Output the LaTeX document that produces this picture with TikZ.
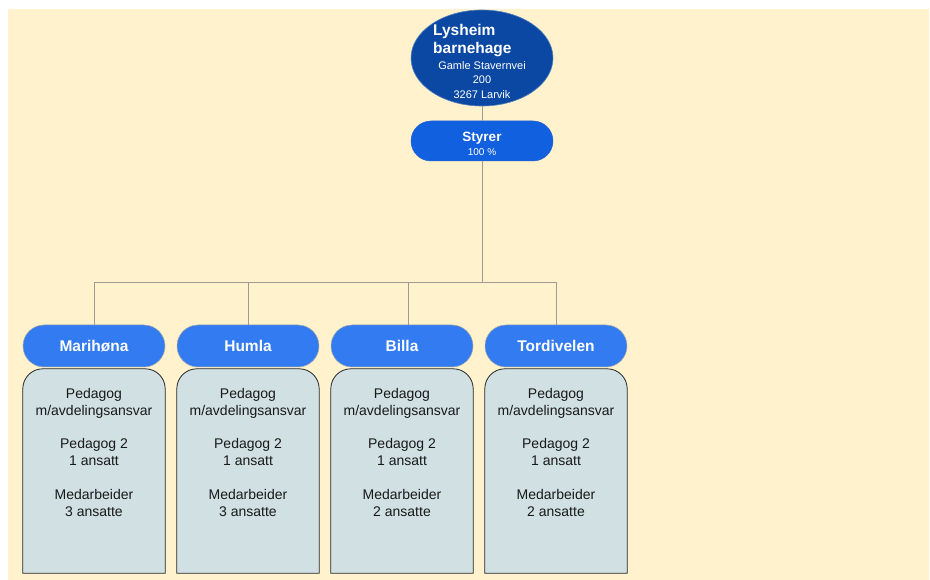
\documentclass[tikz,border=0pt]{standalone}
\usepackage{fontspec}
\setmainfont{Liberation Sans}
\usetikzlibrary{shapes.geometric}
\definecolor{bg}{HTML}{FFF2CC}
\definecolor{topblue}{HTML}{0B48A3}
\definecolor{styrerblue}{HTML}{1160E0}
\definecolor{headblue}{HTML}{337BF0}
\definecolor{bodyfill}{HTML}{D0E0E3}
\definecolor{linegray}{HTML}{A09C94}
\tikzset{
  topell/.style={ellipse, fill=topblue, draw=topblue!70!white, line width=0.6pt, minimum width=142pt, minimum height=96pt, inner sep=0pt},
  styrerbox/.style={rectangle, rounded corners=20pt, fill=styrerblue, draw=styrerblue!80!gray, line width=0.5pt, minimum width=142pt, minimum height=40pt, inner sep=0pt},
  headbox/.style={rectangle, rounded corners=21pt, fill=headblue, draw=gray!70, line width=0.5pt, minimum width=142pt, minimum height=42pt, inner sep=0pt, text=white, font=\fontsize{15.5pt}{18pt}\selectfont\bfseries},
  bodybox/.style={rectangle, minimum width=142pt, minimum height=204pt, inner sep=0pt},
  bodyshape/.style={fill=bodyfill, draw=black!85, line width=0.8pt},
  bodytext/.style={anchor=north, inner sep=0pt, align=center, font=\fontsize{14pt}{17pt}\selectfont, text=black!90},
  conn/.style={draw=linegray, line width=0.9pt},
}
\begin{document}
\begin{tikzpicture}[x=1pt,y=-1pt]
\useasboundingbox (0,0) rectangle (930,580);
\fill[bg] (8,9) rectangle (929,580);

% top
\node[topell] (top) at (482,58) {};
\node[anchor=west, inner sep=0pt, align=left, text=white, font=\fontsize{15.5pt}{18pt}\selectfont\bfseries] (topname) at (433,41) {Lysheim\\barnehage};
\node[anchor=center, inner sep=0pt, align=center, text=white, font=\fontsize{11pt}{14.5pt}\selectfont] (topaddr) at (482,80) {Gamle Stavernvei\\200\\3267 Larvik};

\node[styrerbox] (styrer) at (482,141) {};
\node[inner sep=0pt, text=white, font=\fontsize{13.5pt}{16pt}\selectfont\bfseries] (styrert) at (482,138) {Styrer};
\node[inner sep=0pt, text=white, font=\fontsize{10pt}{12pt}\selectfont] (styrerp) at (482,152) {100 \%};

% headers
\node[headbox] (h1) at (94,346) {Marihøna};
\node[headbox] (h2) at (248,346) {Humla};
\node[headbox] (h3) at (402,346) {Billa};
\node[headbox] (h4) at (556,346) {Tordivelen};

% connectors
\coordinate (bus) at (482,282);
\draw[conn] (top.south) -- (styrer.north);
\draw[conn] (styrer.south) -- (bus);
\draw[conn] (bus) -| (h1.north);
\draw[conn] (bus) -| (h2.north);
\draw[conn] (bus) -| ([xshift=6pt]h3.north);
\draw[conn] (bus) -| (h4.north);

% bodies
\foreach \i/\x in {1/94,2/248,3/402,4/556}{
  \node[bodybox] (b\i) at (\x,471) {};
  \path[bodyshape] (b\i.south west) [rounded corners=20pt] -- (b\i.north west) -- (b\i.north east) [sharp corners] -- (b\i.south east) -- cycle;
}
\node[bodytext] (t1) at ([yshift=-19pt]b1.north) {Pedagog\\m/avdelingsansvar\\[16.5pt]Pedagog 2\\1 ansatt\\[16.5pt]Medarbeider\\3 ansatte};
\node[bodytext] (t2) at ([yshift=-19pt]b2.north) {Pedagog\\m/avdelingsansvar\\[16.5pt]Pedagog 2\\1 ansatt\\[16.5pt]Medarbeider\\3 ansatte};
\node[bodytext] (t3) at ([yshift=-19pt]b3.north) {Pedagog\\m/avdelingsansvar\\[16.5pt]Pedagog 2\\1 ansatt\\[16.5pt]Medarbeider\\2 ansatte};
\node[bodytext] (t4) at ([yshift=-19pt]b4.north) {Pedagog\\m/avdelingsansvar\\[16.5pt]Pedagog 2\\1 ansatt\\[16.5pt]Medarbeider\\2 ansatte};
\end{tikzpicture}
\end{document}
